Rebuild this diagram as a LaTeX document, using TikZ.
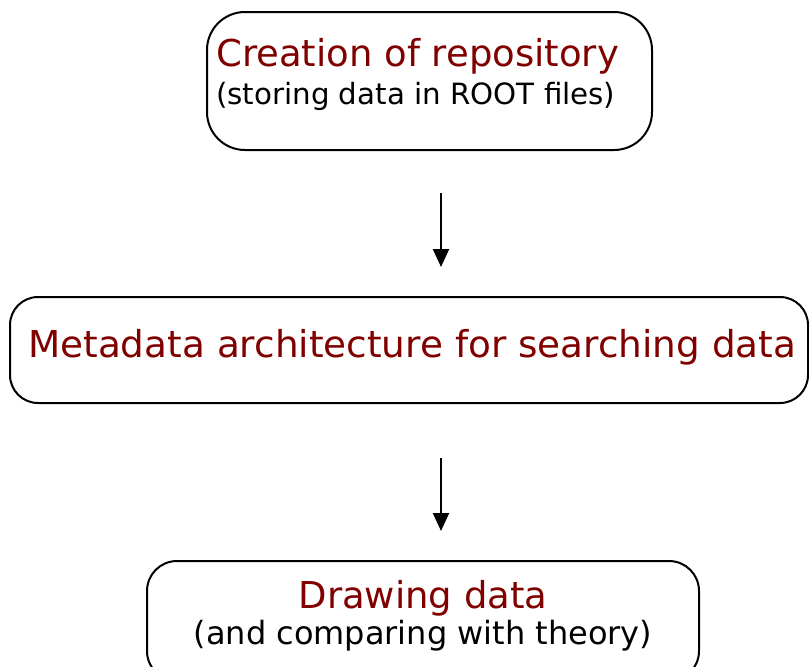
\documentclass[tikz,border=0pt]{standalone}
\usepackage{fontspec}
\setmainfont{DejaVu Sans}
\usetikzlibrary{arrows.meta}
\definecolor{darkred}{RGB}{128,0,0}
\tikzset{
  box/.style={draw, line width=2pt, inner sep=0pt},
  title/.style={text=darkred, font=\fontsize{37}{40}\selectfont, inner sep=0pt},
  sub/.style={text=black, inner sep=0pt},
  arr/.style={-{Triangle[length=18pt,width=16pt]}, line width=2.2pt}
}
\begin{document}
\begin{tikzpicture}[x=1pt,y=-1pt]
\useasboundingbox (0,0) rectangle (809,667);
\node[box, rounded corners=38pt, minimum width=445pt, minimum height=138pt] (b1) at (429.5,81) {};
\node[box, rounded corners=28pt, minimum width=798pt, minimum height=106pt] (b2) at (409,350) {};
\node[box, rounded corners=30pt, minimum width=552pt, minimum height=120pt] (b3) at (423,621) {};
\node[title, anchor=base west] (t1) at (216,66) {Creation of repository};
\node[sub, font=\fontsize{29.3}{32}\selectfont, anchor=base west] (s1) at (216,104) {(storing data in ROOT files)};
\node[title, anchor=base west] (t2) at (28,357) {\scalebox{1.01}[1]{Metadata architecture for searching data}};
\node[title, anchor=base] (t3) at (423,608) {Drawing data};
\node[sub, font=\fontsize{32}{36}\selectfont, anchor=base] (s3) at (423,644) {(and comparing with theory)};
\coordinate (a1s) at (441,193);
\coordinate (a1e) at (441,267);
\coordinate (a2s) at (441,458);
\coordinate (a2e) at (441,531);
\draw[arr] (a1s) -- (a1e);
\draw[arr] (a2s) -- (a2e);
\end{tikzpicture}
\end{document}
